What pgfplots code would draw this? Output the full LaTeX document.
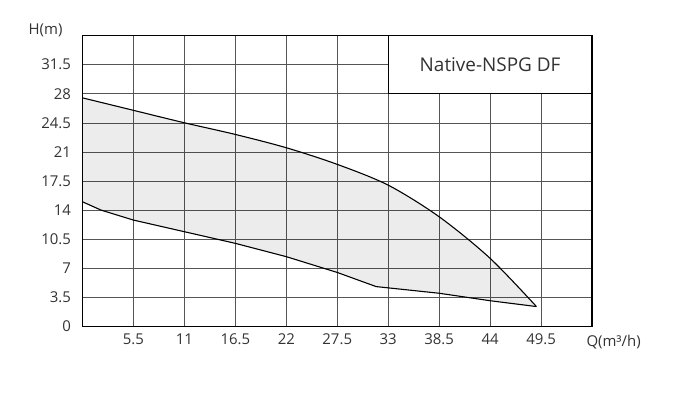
\documentclass[border=0pt]{standalone}
\usepackage{pgfplots}
\pgfplotsset{compat=1.18}
\usepackage{fontspec}
\setmainfont{Open Sans}
\definecolor{txt}{HTML}{333333}
\definecolor{gridc}{HTML}{555555}
\begin{document}
\begin{tikzpicture}[x=1bp,y=1bp]
\path[use as bounding box] (0,0) rectangle (692,402);
\begin{axis}[
  at={(82.5bp,75.5bp)}, anchor=south west,
  scale only axis, width=509.5bp, height=291bp,
  xmin=0, xmax=55, ymin=0, ymax=35,
  xtick={5.5,11,16.5,22,27.5,33,38.5,44,49.5},
  xticklabels={5.5,11,16.5,22,27.5,33,38.5,44,49.5},
  ytick={0,3.5,7,10.5,14,17.5,21,24.5,28,31.5},
  yticklabels={0,3.5,7,10.5,14,17.5,21,24.5,28,31.5},
  grid=major,
  major grid style={draw=gridc, line width=0.6bp},
  major tick length=0pt,
  axis line style={black, line width=1.6bp},
  ticklabel style={font=\fontsize{15}{17}\selectfont, text=txt},
  xticklabel style={yshift=-4bp},
  yticklabel style={xshift=-8bp},
  clip=false,
]
% shaded operating area
\addplot[draw=none, fill=black, fill opacity=0.075] coordinates {
 (0,27.5) (5.5,26.0) (11,24.5) (16.5,23.1) (22,21.5) (27.5,19.5) (33,17.0) (38.5,13.2) (44,8.2) (49,2.4)
 (44,3.1) (38.5,4.0) (31.7,4.8) (27.5,6.5) (22,8.4) (16.5,10.0) (11,11.4) (5.5,12.8) (2,14.0) (0,15.0)
} -- cycle;
% upper curve
\addplot[black, line width=1.1bp, smooth, tension=0.5] coordinates {
 (0,27.5) (5.5,26.0) (11,24.5) (16.5,23.1) (22,21.5) (27.5,19.5) (33,17.0) (38.5,13.2) (44,8.2) (49,2.4)
};
% lower curve
\addplot[black, line width=1.1bp] coordinates {
 (0,15.0) (2,14.0) (5.5,12.8) (11,11.4) (16.5,10.0) (22,8.4) (27.5,6.5) (31.7,4.8) (38.5,4.0) (44,3.1) (49,2.4)
};
\draw[black, line width=1.4bp, fill=white] (axis cs:33,28) rectangle (axis cs:55,35);
\node[text=txt, font=\fontsize{19}{21}\selectfont] at (axis cs:44,31.5) {Native-NSPG DF};
\node[anchor=east, text=txt, font=\fontsize{15}{17}\selectfont] at ([xshift=-16.5bp,yshift=5bp]rel axis cs:0,1) {H(m)};
\node[anchor=west, text=txt, font=\fontsize{15}{17}\selectfont] at ([xshift=-9bp,yshift=-15.5bp]rel axis cs:1,0) {Q(m³/h)};
\end{axis}
\end{tikzpicture}
\end{document}
